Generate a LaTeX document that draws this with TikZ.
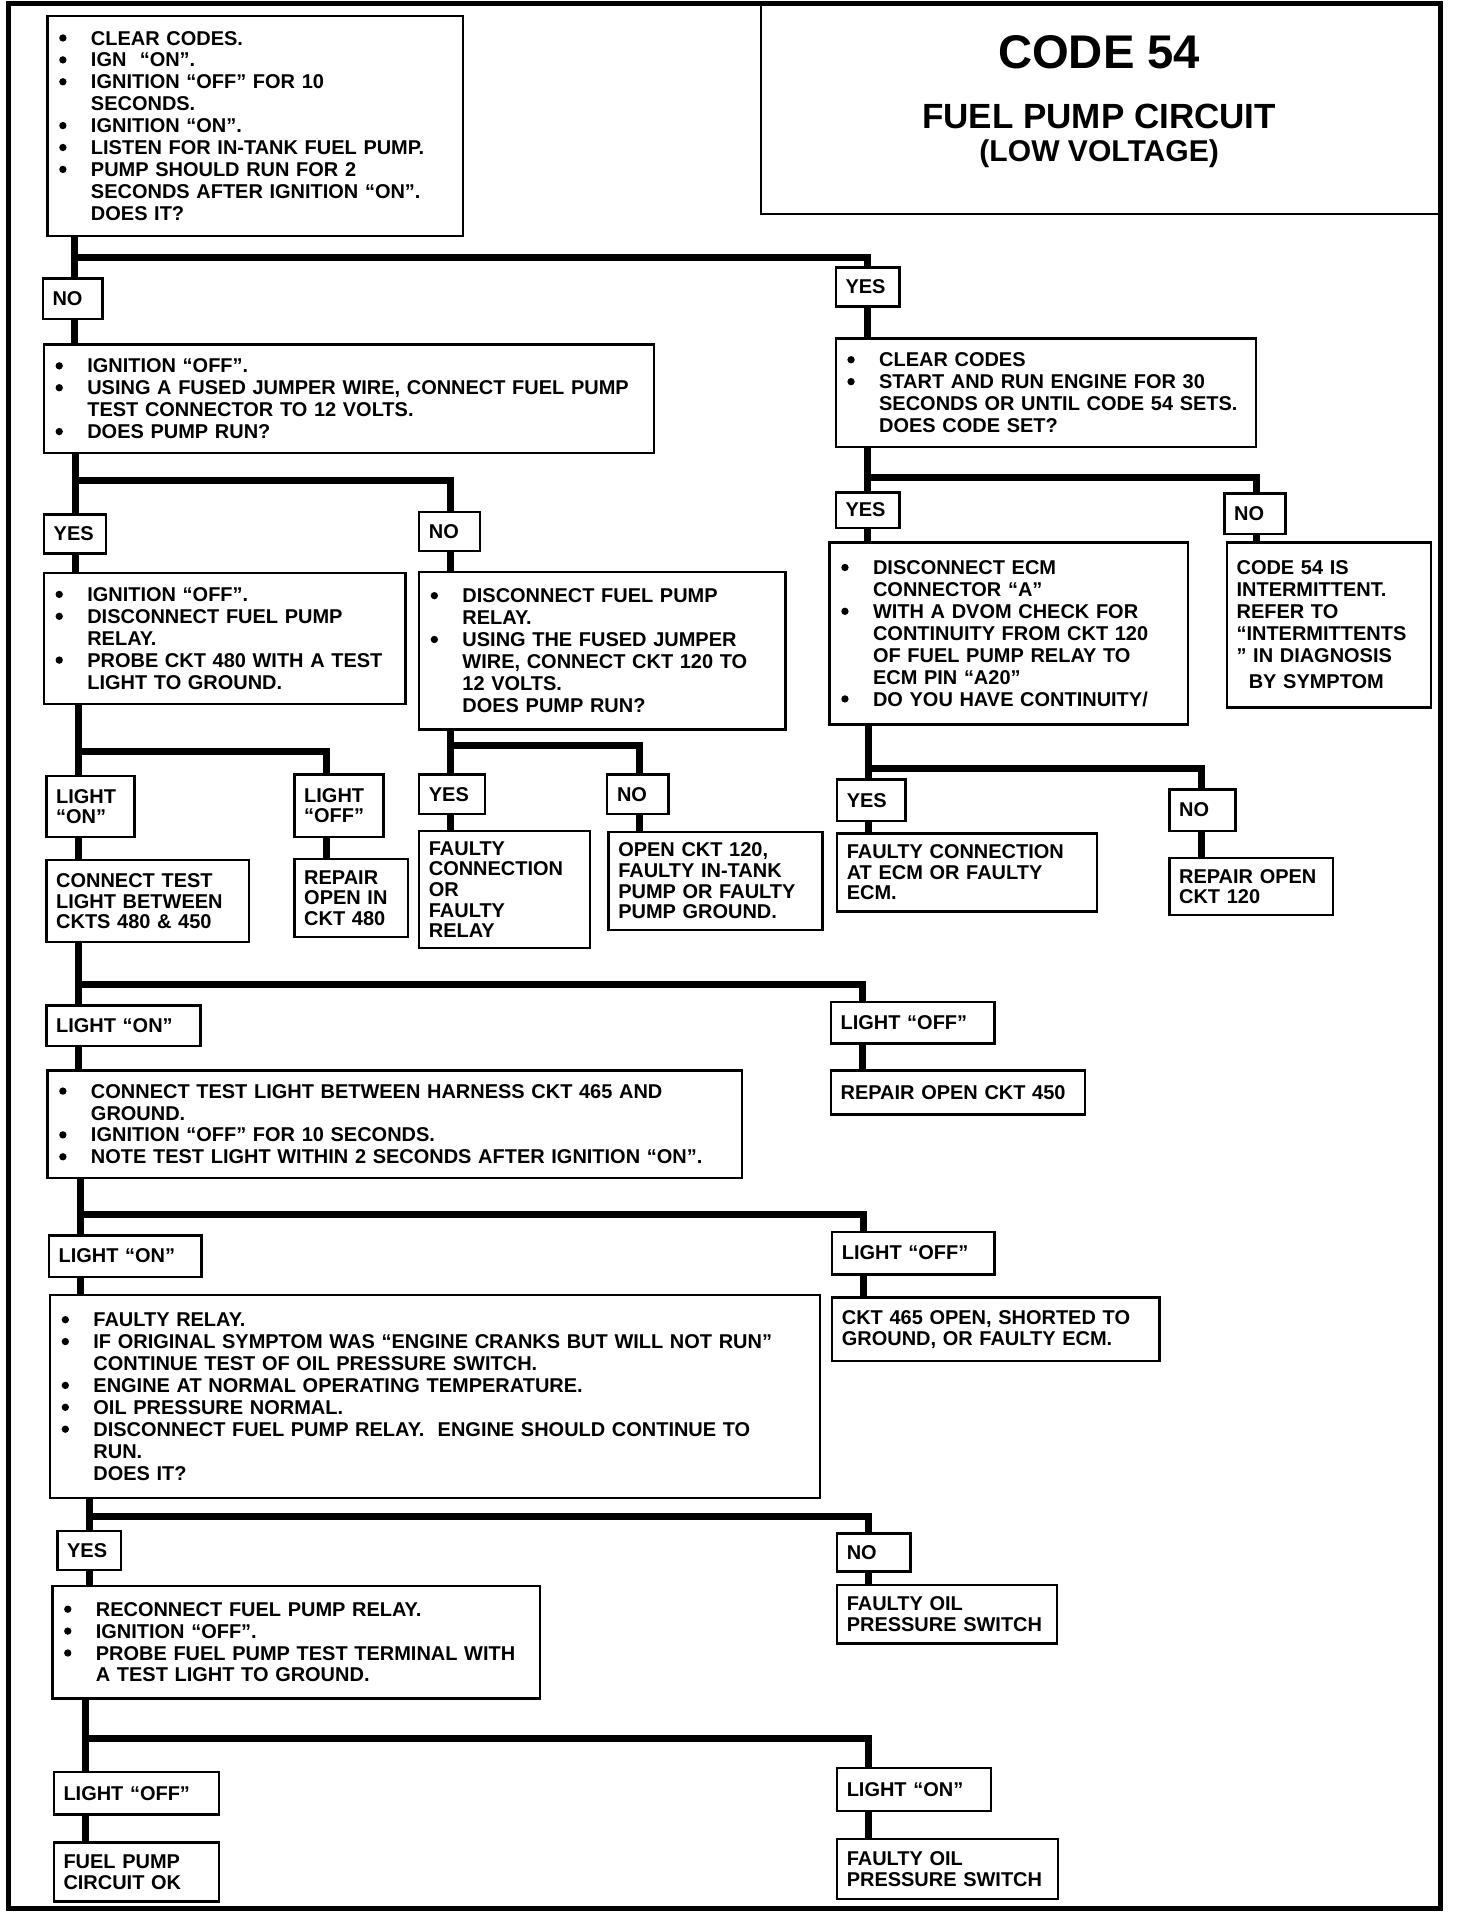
\documentclass[tikz,border=0pt]{standalone}
\usepackage{fontspec}
\setmainfont{Liberation Sans}
\tikzset{
    box/.style={
        rectangle,
        draw,
        line width=1.1pt,
        fill=white,
        anchor=north west,
        inner xsep=0.16cm,
        inner ysep=0pt,
        align=left,
    },
    step box/.style={
        box,
        font=\bfseries\fontsize{9.3}{10.2}\selectfont,
    },
    result box/.style={
        box,
        font=\bfseries\fontsize{9.3}{9.6}\selectfont,
    },
    answer box/.style={
        box,
        font=\bfseries\fontsize{9.3}{9.2}\selectfont,
    },
    flow/.style={
        line width=3.2pt,
        line join=miter,
    },
    frame/.style={
        line width=2.4pt,
    },
    title line/.style={
        anchor=base,
        font=\bfseries\fontsize{#1}{#1}\selectfont,
    },
}
\newcommand{\stepBullet}{\makebox[0.55cm][l]{\hspace{0.03cm}\tikz[baseline=0pt]\fill (0,0.116) circle (0.06);}}
\newcommand{\stepIndent}{\hspace*{0.55cm}}
\newcommand{\flowNode}[6]{%
    \pgfmathsetmacro{\boxTextWidth}{#4-0.32}%
    \node[#2, text width=\boxTextWidth cm, minimum height=#5cm] (#1) at (#3) {#6};
}
\newcommand{\answerNode}[5]{%
    \flowNode{#1}{answer box}{#2}{#3}{#4}{#5}
    \coordinate (#1-in) at ([xshift=0.54cm]#1.north west);
    \coordinate (#1-out) at ([xshift=0.54cm]#1.south west);
}

\begin{document}
\begin{tikzpicture}

\useasboundingbox (0,0) rectangle (23.84,-31.36);

% ── TITLE ──────────────────────────────────────────────────────────

\node[box, minimum width=11.14cm, minimum height=3.42cm, line width=1pt] (title) at (12.44,-0.06) {};
\node[title line=22] (title-code) at (17.99,-1.12) {CODE 54};
\node[title line=16.3] (title-name) at (17.99,-2.10) {FUEL PUMP CIRCUIT};
\node[title line=14] (title-sub) at (17.99,-2.65) {(LOW VOLTAGE)};

% ── FIRST CHECK ────────────────────────────────────────────────────

\flowNode{start}{step box}{0.76,-0.24}{6.80}{3.60}{%
    \stepBullet CLEAR CODES.\\
    \stepBullet IGN\ \ “ON”.\\
    \stepBullet IGNITION “OFF” FOR 10\\
    \stepIndent SECONDS.\\
    \stepBullet IGNITION “ON”.\\
    \stepBullet LISTEN FOR IN-TANK FUEL PUMP.\\
    \stepBullet PUMP SHOULD RUN FOR 2\\
    \stepIndent SECONDS AFTER IGNITION “ON”.\\
    \stepIndent DOES IT?}

\answerNode{noStart}{0.68,-4.54}{0.98}{0.66}{NO}
\answerNode{yesStart}{13.66,-4.36}{1.04}{0.64}{YES}

% ── LEFT: PUMP DOES NOT RUN ────────────────────────────────────────

\flowNode{jumper}{step box}{0.70,-5.62}{9.98}{1.78}{%
    \stepBullet IGNITION “OFF”.\\
    \stepBullet USING A FUSED JUMPER WIRE, CONNECT FUEL PUMP\\
    \stepIndent TEST CONNECTOR TO 12 VOLTS.\\
    \stepBullet DOES PUMP RUN?}

\answerNode{yesJumper}{0.70,-8.40}{1.02}{0.64}{YES}
\answerNode{noJumper}{6.84,-8.36}{1.00}{0.64}{NO}

\flowNode{probe480}{step box}{0.70,-9.36}{5.92}{2.14}{%
    \stepBullet IGNITION “OFF”.\\
    \stepBullet DISCONNECT FUEL PUMP\\
    \stepIndent RELAY.\\
    \stepBullet PROBE CKT 480 WITH A TEST\\
    \stepIndent LIGHT TO GROUND.}

\flowNode{relayJumper}{step box}{6.84,-9.34}{6.00}{2.58}{%
    \stepBullet DISCONNECT FUEL PUMP\\
    \stepIndent RELAY.\\
    \stepBullet USING THE FUSED JUMPER\\
    \stepIndent WIRE, CONNECT CKT 120 TO\\
    \stepIndent 12 VOLTS.\\
    \stepIndent DOES PUMP RUN?}

\answerNode{on480}{0.74,-12.68}{1.44}{1.00}{LIGHT\\“ON”}
\answerNode{off480}{4.80,-12.66}{1.46}{1.02}{LIGHT\\“OFF”}
\answerNode{yesRun}{6.84,-12.66}{1.08}{0.64}{YES}
\answerNode{noRun}{9.92,-12.66}{1.00}{0.64}{NO}

\flowNode{test450}{result box}{0.74,-14.06}{3.32}{1.34}{CONNECT TEST\\LIGHT BETWEEN\\CKTS 480 \& 450}
\flowNode{repair480}{result box}{4.80,-14.04}{1.86}{1.28}{REPAIR\\OPEN IN\\CKT 480}
\flowNode{faultyRelay}{result box}{6.84,-13.58}{2.80}{1.92}{FAULTY\\CONNECTION\\OR\\FAULTY\\RELAY}
\flowNode{open120}{result box}{9.94,-13.60}{3.50}{1.60}{OPEN CKT 120,\\FAULTY IN-TANK\\PUMP OR FAULTY\\PUMP GROUND.}

% ── RIGHT: PUMP RUNS ───────────────────────────────────────────────

\flowNode{clearCodes}{step box}{13.66,-5.52}{6.88}{1.78}{%
    \stepBullet CLEAR CODES\\
    \stepBullet START AND RUN ENGINE FOR 30\\
    \stepIndent SECONDS OR UNTIL CODE 54 SETS.\\
    \stepIndent DOES CODE SET?}

\answerNode{yesCode}{13.66,-8.04}{1.04}{0.58}{YES}
\answerNode{noCode}{20.02,-8.06}{1.00}{0.66}{NO}

\flowNode{ecmCheck}{step box}{13.56,-8.86}{5.86}{2.98}{%
    \stepBullet DISCONNECT ECM\\
    \stepIndent CONNECTOR “A”\\
    \stepBullet WITH A DVOM CHECK FOR\\
    \stepIndent CONTINUITY FROM CKT 120\\
    \stepIndent OF FUEL PUMP RELAY TO\\
    \stepIndent ECM PIN “A20”\\
    \stepBullet DO YOU HAVE CONTINUITY/}

\flowNode{intermittent}{step box}{20.06,-8.86}{3.34}{2.70}{%
    CODE 54 IS\\
    INTERMITTENT.\\
    REFER TO\\
    “INTERMITTENTS\\
    ” IN DIAGNOSIS\\[2pt]
    \hspace*{0.2cm}BY SYMPTOM}

\answerNode{yesCont}{13.68,-12.74}{1.12}{0.68}{YES}
\answerNode{noCont}{19.12,-12.90}{1.08}{0.68}{NO}

\flowNode{faultyEcm}{result box}{13.68,-13.62}{4.26}{1.28}{FAULTY CONNECTION\\AT ECM OR FAULTY\\ECM.}
\flowNode{repair120}{result box}{19.12,-14.02}{2.68}{0.94}{REPAIR OPEN\\CKT 120}

% ── LOWER: CKT 450 / CKT 465 ───────────────────────────────────────

\answerNode{on450}{0.74,-16.44}{2.52}{0.66}{LIGHT “ON”}
\answerNode{off450}{13.58,-16.38}{2.68}{0.68}{LIGHT “OFF”}

\flowNode{test465}{step box}{0.76,-17.50}{11.36}{1.76}{%
    \stepBullet CONNECT TEST LIGHT BETWEEN HARNESS CKT 465 AND\\
    \stepIndent GROUND.\\
    \stepBullet IGNITION “OFF” FOR 10 SECONDS.\\
    \stepBullet NOTE TEST LIGHT WITHIN 2 SECONDS AFTER IGNITION “ON”.}
\flowNode{repair450}{result box}{13.58,-17.50}{4.16}{0.72}{REPAIR OPEN CKT 450}

\answerNode{on465}{0.78,-20.20}{2.50}{0.68}{LIGHT “ON”}
\answerNode{off465}{13.60,-20.14}{2.66}{0.70}{LIGHT “OFF”}

\flowNode{oilTest}{step box}{0.80,-21.18}{12.60}{3.32}{%
    \stepBullet FAULTY RELAY.\\
    \stepBullet IF ORIGINAL SYMPTOM WAS “ENGINE CRANKS BUT WILL NOT RUN”\\
    \stepIndent CONTINUE TEST OF OIL PRESSURE SWITCH.\\
    \stepBullet ENGINE AT NORMAL OPERATING TEMPERATURE.\\
    \stepBullet OIL PRESSURE NORMAL.\\
    \stepBullet DISCONNECT FUEL PUMP RELAY.\ \ ENGINE SHOULD CONTINUE TO\\
    \stepIndent RUN.\\
    \stepIndent DOES IT?}
\flowNode{ckt465}{result box}{13.60,-21.22}{5.36}{1.04}{CKT 465 OPEN, SHORTED TO\\GROUND, OR FAULTY ECM.}

% ── BOTTOM: OIL PRESSURE SWITCH ────────────────────────────────────

\answerNode{yesEngine}{0.92,-25.04}{1.04}{0.64}{YES}
\answerNode{noEngine}{13.68,-25.08}{1.20}{0.62}{NO}

\flowNode{probeTerm}{step box}{0.84,-25.94}{7.98}{1.84}{%
    \stepBullet RECONNECT FUEL PUMP RELAY.\\
    \stepBullet IGNITION “OFF”.\\
    \stepBullet PROBE FUEL PUMP TEST TERMINAL WITH\\
    \stepIndent A TEST LIGHT TO GROUND.}
\flowNode{oilSwitchA}{result box}{13.68,-25.92}{3.60}{0.96}{FAULTY OIL\\PRESSURE SWITCH}

\answerNode{offTerm}{0.86,-28.98}{2.70}{0.70}{LIGHT “OFF”}
\answerNode{onTerm}{13.68,-28.92}{2.52}{0.70}{LIGHT “ON”}

\flowNode{pumpOk}{result box}{0.86,-30.14}{2.70}{0.96}{FUEL PUMP\\CIRCUIT OK}
\flowNode{oilSwitchB}{result box}{13.68,-30.08}{3.62}{0.98}{FAULTY OIL\\PRESSURE SWITCH}

% ── CONNECTORS ─────────────────────────────────────────────────────

% First check
\draw[flow] (start.south -| noStart-in) -- (noStart-in);
\draw[flow] (start.south -| noStart-in) -- ++(0,-0.34) -| (yesStart-in);
\draw[flow] (noStart-out) -- (noStart-out |- jumper.north);
\draw[flow] (yesStart-out) -- (yesStart-out |- clearCodes.north);

% Jumper to pump
\draw[flow] (jumper.south -| yesJumper-in) -- (yesJumper-in);
\draw[flow] (jumper.south -| yesJumper-in) -- ++(0,-0.42) -| (noJumper-in);
\draw[flow] (yesJumper-out) -- (yesJumper-out |- probe480.north);
\draw[flow] (noJumper-out) -- (noJumper-out |- relayJumper.north);

% Probe CKT 480
\draw[flow] (probe480.south -| on480-in) -- (on480-in);
\draw[flow] (probe480.south -| on480-in) -- ++(0,-0.76) -| (off480-in);
\draw[flow] (on480-out) -- (on480-out |- test450.north);
\draw[flow] (off480-out) -- (off480-out |- repair480.north);

% Jumper to CKT 120
\draw[flow] (relayJumper.south -| yesRun-in) -- (yesRun-in);
\draw[flow] (relayJumper.south -| yesRun-in) -- ++(0,-0.24) -| (noRun-in);
\draw[flow] (yesRun-out) -- (yesRun-out |- faultyRelay.north);
\draw[flow] (noRun-out) -- (noRun-out |- open120.north);

% Clear codes
\draw[flow] (clearCodes.south -| yesCode-in) -- (yesCode-in);
\draw[flow] (clearCodes.south -| yesCode-in) -- ++(0,-0.48) -| (noCode-in);
\draw[flow] (yesCode-out) -- (yesCode-out |- ecmCheck.north);
\draw[flow] (noCode-out) -- (noCode-out |- intermittent.north);

% ECM continuity
\draw[flow] (ecmCheck.south -| yesCont-in) -- (yesCont-in);
\draw[flow] (ecmCheck.south -| yesCont-in) -- ++(0,-0.70) -| (noCont-in);
\draw[flow] (yesCont-out) -- (yesCont-out |- faultyEcm.north);
\draw[flow] (noCont-out) -- (noCont-out |- repair120.north);

% CKTS 480 & 450
\draw[flow] (test450.south -| on450-in) -- (on450-in);
\draw[flow] (test450.south -| on450-in) -- ++(0,-0.68) -| (off450-in);
\draw[flow] (on450-out) -- (on450-out |- test465.north);
\draw[flow] (off450-out) -- (off450-out |- repair450.north);

% CKT 465
\draw[flow] (test465.south -| on465-in) -- (on465-in);
\draw[flow] (test465.south -| on465-in) -- ++(0,-0.58) -| (off465-in);
\draw[flow] (on465-out) -- (on465-out |- oilTest.north);
\draw[flow] (off465-out) -- (off465-out |- ckt465.north);

% Engine keeps running
\draw[flow] (oilTest.south -| yesEngine-in) -- (yesEngine-in);
\draw[flow] (oilTest.south -| yesEngine-in) -- ++(0,-0.28) -| (noEngine-in);
\draw[flow] (yesEngine-out) -- (yesEngine-out |- probeTerm.north);
\draw[flow] (noEngine-out) -- (noEngine-out |- oilSwitchA.north);

% Test terminal
\draw[flow] (probeTerm.south -| offTerm-in) -- (offTerm-in);
\draw[flow] (probeTerm.south -| offTerm-in) -- ++(0,-0.64) -| (onTerm-in);
\draw[flow] (offTerm-out) -- (offTerm-out |- pumpOk.north);
\draw[flow] (onTerm-out) -- (onTerm-out |- oilSwitchB.north);

% ── FRAME ──────────────────────────────────────────────────────────

\draw[frame] (0.14,-0.06) rectangle (23.58,-31.24);

\end{tikzpicture}
\end{document}
